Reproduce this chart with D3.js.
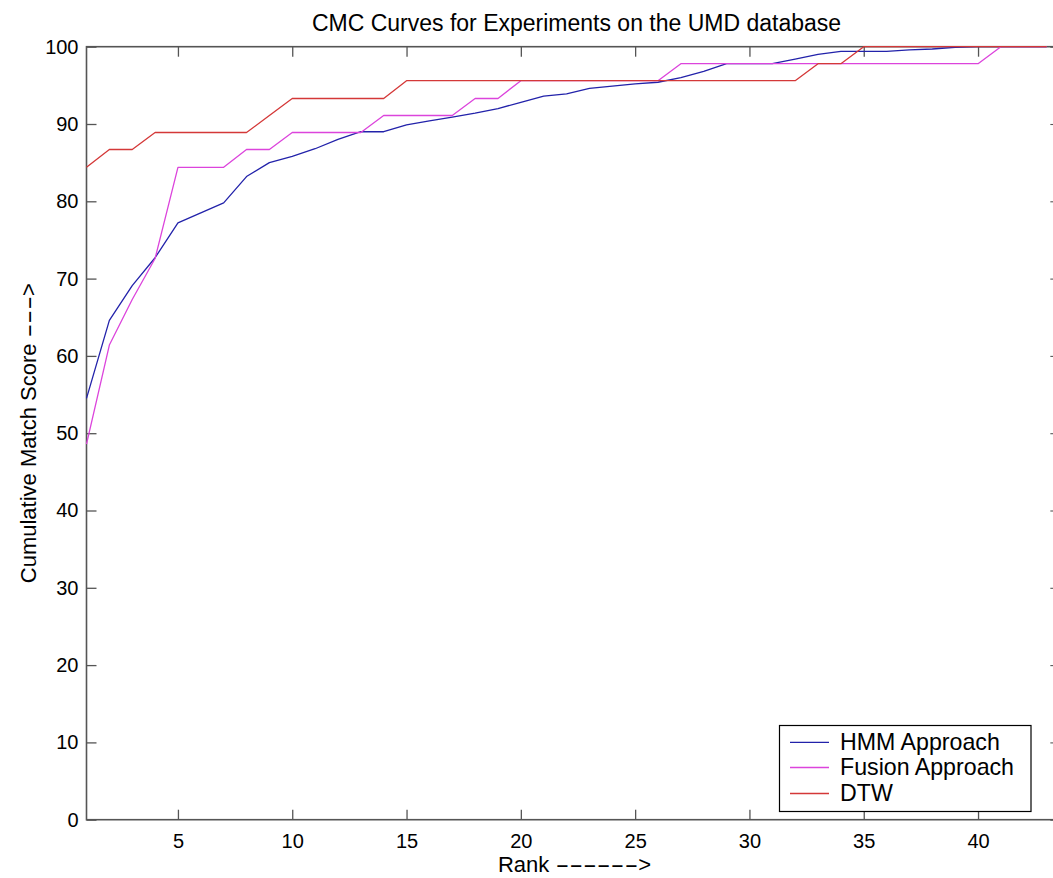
<!DOCTYPE html>
<html>
<head>
<meta charset="utf-8">
<script src="https://cdn.jsdelivr.net/npm/d3@7"></script>
<style>
  html, body { margin: 0; padding: 0; background: #fff; }
  svg { display: block; }
  text { font-family: "Liberation Sans", Arial, Helvetica, sans-serif; fill: #000; }
</style>
</head>
<body>
<script>
// ---- data ----
const ranks = d3.range(1, 44); // 1..43
const hmm = [54.5, 64.6, 69.1, 72.7, 77.2, 78.5, 79.8, 83.2, 85.0, 85.8,
             86.8, 88.0, 89.0, 89.0, 89.9, 90.4, 90.9, 91.4, 92.0, 92.8,
             93.6, 93.9, 94.6, 94.9, 95.2, 95.4, 96.0, 96.8, 97.8, 97.8,
             97.8, 98.4, 99.0, 99.4, 99.4, 99.4, 99.6, 99.7, 99.9, 100,
             100, 100, 100];
const fusion = [48.6, 61.4, 67.3, 72.6, 84.4, 84.4, 84.4, 86.7, 86.7, 88.9,
                88.9, 88.9, 88.9, 91.1, 91.1, 91.1, 91.1, 93.3, 93.3, 95.6,
                95.6, 95.6, 95.6, 95.6, 95.6, 95.6, 97.8, 97.8, 97.8, 97.8,
                97.8, 97.8, 97.8, 97.8, 97.8, 97.8, 97.8, 97.8, 97.8, 97.8,
                100, 100, 100];
const dtw = [84.4, 86.7, 86.7, 88.9, 88.9, 88.9, 88.9, 88.9, 91.1, 93.3,
             93.3, 93.3, 93.3, 93.3, 95.6, 95.6, 95.6, 95.6, 95.6, 95.6,
             95.6, 95.6, 95.6, 95.6, 95.6, 95.6, 95.6, 95.6, 95.6, 95.6,
             95.6, 95.6, 97.8, 97.8, 100, 100, 100, 100, 100, 100,
             100, 100, 100];
const seriesNames = ["HMM Approach", "Fusion Approach", "DTW"];
const seriesColors = ["#2222aa", "#dc44dc", "#d43838"];
const xTicks = [5, 10, 15, 20, 25, 30, 35, 40];
const yTicks = [0, 10, 20, 30, 40, 50, 60, 70, 80, 90, 100];
const xDomain = [1, 43.6];
const yDomain = [0, 100];
const titleText = "CMC Curves for Experiments on the UMD database";
const xLabelParts = ["Rank ", "------", ">"];
const yLabelParts = ["Cumulative Match Score ", "---", ">"];

// ---- layout ----
const W = 1053, H = 878;
const pL = 86.5, pT = 46.7, pB = 819.7;
const perRank = 22.86;
const pR = pL + (xDomain[1] - xDomain[0]) * perRank;

const svg = d3.select("body").append("svg")
  .attr("width", W).attr("height", H);

const x = d3.scaleLinear().domain(xDomain).range([pL, pR]);
const y = d3.scaleLinear().domain(yDomain).range([pB, pT]);

const axisColor = "#555";
const tickLen = 10;
const fontFam = '"Liberation Sans", Arial, Helvetica, sans-serif';

// axes box
svg.append("rect")
  .attr("x", pL).attr("y", pT)
  .attr("width", pR - pL).attr("height", pB - pT)
  .attr("fill", "none").attr("stroke", axisColor).attr("stroke-width", 1.6);

// bottom axis (ticks inward)
const gx = svg.append("g").attr("transform", `translate(0,${pB})`)
  .call(d3.axisBottom(x).tickValues(xTicks).tickSize(-tickLen).tickPadding(14).tickFormat(d3.format("d")));
gx.select(".domain").remove();
gx.selectAll(".tick line").attr("stroke", axisColor).attr("stroke-width", 1.3);
gx.selectAll(".tick text").attr("font-size", 20).attr("dy", "0.71em")
  .attr("font-family", fontFam).attr("fill", "#000");

// top axis ticks
const gxt = svg.append("g").attr("transform", `translate(0,${pT})`)
  .call(d3.axisTop(x).tickValues(xTicks).tickSize(-tickLen).tickFormat(""));
gxt.select(".domain").remove();
gxt.selectAll(".tick line").attr("stroke", axisColor).attr("stroke-width", 1.3);

// left axis
const gy = svg.append("g").attr("transform", `translate(${pL},0)`)
  .call(d3.axisLeft(y).tickValues(yTicks).tickSize(-tickLen).tickPadding(8).tickFormat(d3.format("d")));
gy.select(".domain").remove();
gy.selectAll(".tick line").attr("stroke", axisColor).attr("stroke-width", 1.3);
gy.selectAll(".tick text").attr("font-size", 20)
  .attr("font-family", fontFam).attr("fill", "#000");

// right axis ticks
const gyr = svg.append("g").attr("transform", `translate(${pR},0)`)
  .call(d3.axisRight(y).tickValues(yTicks).tickSize(-tickLen).tickFormat(""));
gyr.select(".domain").remove();
gyr.selectAll(".tick line").attr("stroke", axisColor).attr("stroke-width", 1.1);

// lines
const line = d3.line().x((d, i) => x(ranks[i])).y(d => y(d));
const allSeries = [hmm, fusion, dtw];
allSeries.forEach((s, k) => {
  svg.append("path").datum(s)
    .attr("d", line)
    .attr("fill", "none")
    .attr("stroke", seriesColors[k])
    .attr("stroke-width", 1.3)
    .attr("stroke-linejoin", "round");
});

// title
svg.append("text")
  .attr("x", 576.5).attr("y", 30.5)
  .attr("text-anchor", "middle").attr("font-size", 23)
  .text(titleText);

// label with stretched dashes (to mimic the wide hyphens of the original font)
function dashedLabel(g, parts, fontSize, dashPitch) {
  const pieces = parts.map(p =>
    g.append("text").attr("font-size", fontSize).attr("y", 0)
      .attr("xml:space", "preserve").style("white-space", "pre").text(p));
  const widths = pieces.map((t, i) =>
    i === 1 ? parts[1].length * dashPitch : t.node().getComputedTextLength());
  const total = d3.sum(widths);
  let cx = -total / 2;
  pieces.forEach((t, i) => {
    t.attr("x", cx);
    if (i === 1) t.attr("textLength", widths[i]).attr("lengthAdjust", "spacingAndGlyphs");
    cx += widths[i];
  });
}

// x label
const xlG = svg.append("g").attr("transform", `translate(574.5,872)`);
dashedLabel(xlG, xLabelParts, 22, 13.8);

// y label
const ylG = svg.append("g").attr("transform", `translate(36,${(pT + pB) / 2}) rotate(-90)`);
dashedLabel(ylG, yLabelParts, 22, 13.8);

// legend
const lg = svg.append("g");
lg.append("rect")
  .attr("x", 779.5).attr("y", 725.5).attr("width", 251.5).attr("height", 86)
  .attr("fill", "#fff").attr("stroke", "#000").attr("stroke-width", 1.2);
const rowY = [742.3, 767.5, 793.5];
seriesNames.forEach((name, k) => {
  lg.append("line")
    .attr("x1", 790).attr("x2", 829)
    .attr("y1", rowY[k]).attr("y2", rowY[k])
    .attr("stroke", seriesColors[k]).attr("stroke-width", 1.3);
  lg.append("text")
    .attr("x", 840).attr("y", rowY[k] + 7.8)
    .attr("font-size", 23.2)
    .text(name);
});
</script>
</body>
</html>
